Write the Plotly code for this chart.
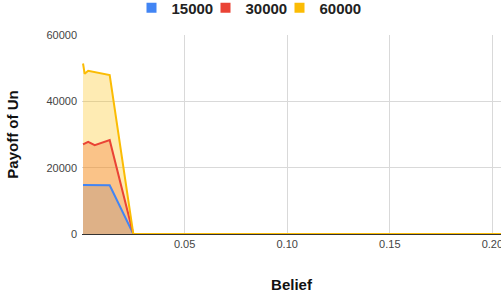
import plotly.graph_objects as go

belief = [0.0005, 0.0013, 0.003, 0.0062, 0.0135, 0.025, 0.05, 0.1, 0.15, 0.2, 0.25]
payoff_15000 = [14800, 14800, 14750, 14600, 14700, 0, 0, 0, 0, 0, 0]
payoff_30000 = [27000, 27300, 27800, 26800, 28300, 0, 0, 0, 0, 0, 0]
payoff_60000 = [51400, 48300, 49200, 48800, 47900, 0, 0, 0, 0, 0, 0]
series_names = ["15000", "30000", "60000"]
colors = ["#4285F4", "#EA4335", "#FBBC04"]
fills = ["rgba(66,133,244,0.3)", "rgba(234,67,53,0.3)", "rgba(251,188,4,0.3)"]

fig = go.Figure()
series = [payoff_15000, payoff_30000, payoff_60000]
# area fills first
for i in range(3):
    fig.add_trace(go.Scatter(
        x=belief, y=series[i], mode="lines", fill="tozeroy",
        fillcolor=fills[i], line=dict(width=0, color=colors[i]),
        showlegend=False, hoverinfo="skip"))
# lines on top of all fills
for i in range(3):
    fig.add_trace(go.Scatter(
        x=belief, y=series[i], mode="lines",
        line=dict(color=colors[i], width=2),
        showlegend=False, hoverinfo="skip"))
legend_widths = [29, 29, 45]
for i in range(3):
    fig.add_trace(go.Scatter(
        x=[None], y=[None], mode="markers", name=series_names[i],
        legendwidth=legend_widths[i],
        marker=dict(symbol="square", size=10, color=colors[i])))

fig.update_layout(
    width=501, height=300,
    margin=dict(l=82, r=0, t=35, b=66, autoexpand=False),
    paper_bgcolor="white", plot_bgcolor="white",
    font=dict(family="Liberation Sans, Arial, sans-serif", color="#444"),
    legend=dict(orientation="h", xref="container", x=0.5, xanchor="center",
                yref="paper", y=1.136, yanchor="middle",
                font=dict(size=15, color="#222", weight="bold"),
                itemwidth=30, tracegroupgap=0, entrywidthmode="pixels"),
    xaxis=dict(range=[0, 0.2042], tickvals=[0.05, 0.1, 0.15, 0.2],
               ticktext=["0.05", "0.10", "0.15", "0.20"],
               showgrid=True, gridcolor="#d9d9d9", gridwidth=1,
               zeroline=False, showline=True, linecolor="#333", linewidth=1,
               layer="below traces",
               ticks="", tickfont=dict(size=11, color="#444"), ticklabeloverflow="allow",
               title=dict(text="Belief", font=dict(size=15, color="#111", weight="bold"), standoff=30),
               automargin=False),
    yaxis=dict(range=[0, 60000], tickvals=[0, 20000, 40000, 60000],
               ticktext=["0", "20000", "40000", "60000"],
               showgrid=True, gridcolor="#d9d9d9", gridwidth=1,
               zeroline=False, showline=False, ticks="", ticklabelstandoff=4,
               tickfont=dict(size=11, color="#444"),
               title=dict(text="Payoff of Un", font=dict(size=15, color="#111", weight="bold"), standoff=24),
               automargin=False),
)

fig.write_html("out.html", config={"displayModeBar": False},
               post_script="document.body.style.margin='0';")
